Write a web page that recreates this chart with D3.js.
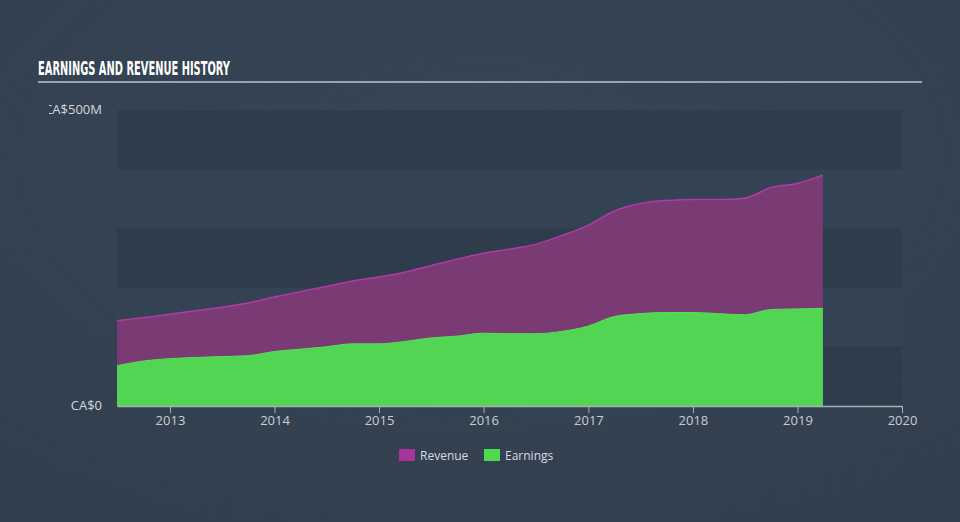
<!DOCTYPE html>
<html><head><meta charset="utf-8">
<script src="https://cdn.jsdelivr.net/npm/d3@7"></script>
<style>
html,body{margin:0;padding:0;background:#344252;}
svg{display:block;}
</style></head>
<body>
<script>
const title = "EARNINGS AND REVENUE HISTORY";
const dates = ["2012-06-30","2012-09-30","2012-12-31","2013-03-31","2013-06-30","2013-09-30","2013-12-31",
  "2014-03-31","2014-06-30","2014-09-30","2014-12-31","2015-03-31","2015-06-30","2015-09-30","2015-12-31",
  "2016-03-31","2016-06-30","2016-09-30","2016-12-31","2017-03-31","2017-06-30","2017-09-30","2017-12-31",
  "2018-03-31","2018-06-30","2018-09-30","2018-12-31","2019-03-31"];
const revenue = [144,149,155,161,167,174,184,193,202,211,218,226,237,248,258,265,273,288,305,329,342,347,349,349,351,369,376,390];
const earnings = [68,76,80,82,83.5,85,92,96,100,105,105,109,115,118,123,122,122,126,135,151,156,158,158,156,154,163,164,165];
const yTickValues = [0,500];
const yTickLabels = ["CA$0","CA$500M"];
const xTickYears = [2013,2014,2015,2016,2017,2018,2019,2020];
const legendItems = ["Revenue","Earnings"];

const W = 960, H = 522;
const svg = d3.select("body").append("svg").attr("width", W).attr("height", H);
const defs = svg.append("defs");
const bg = defs.append("radialGradient").attr("id","bg").attr("cx","50%").attr("cy","30%").attr("r","75%");
bg.append("stop").attr("offset","0%").attr("stop-color","#364657");
bg.append("stop").attr("offset","100%").attr("stop-color","#323f4e");
svg.append("rect").attr("width",W).attr("height",H).attr("fill","url(#bg)");

// title
svg.append("text").attr("x",38).attr("y",75).text(title)
  .attr("font-family","'Liberation Sans Narrow','DejaVu Sans Condensed',sans-serif")
  .attr("font-weight","bold").attr("font-size",20).attr("fill","#ffffff")
  .attr("textLength",192).attr("lengthAdjust","spacingAndGlyphs");
svg.append("rect").attr("x",38).attr("y",81).attr("width",884).attr("height",2).attr("fill","#9aa3ad");

const parse = d3.timeParse("%Y-%m-%d");
const data = dates.map((d,i)=>({date:parse(d), rev:revenue[i], earn:earnings[i]}));

const x = d3.scaleTime().domain([parse("2012-06-30"), parse("2020-01-01")]).range([117, 902]);
const y = d3.scaleLinear().domain([0, 500]).range([406, 110]);

// plot bands
const bands = [0,100,200,300,400];
svg.append("g").selectAll("rect").data(bands).join("rect")
  .attr("x",117).attr("width",902-117)
  .attr("y",d=>y(d+100)).attr("height",d=>y(d)-y(d+100))
  .attr("fill",(d,i)=> i%2===0 ? "#2f3c4b" : "#344353");

const curve = d3.curveMonotoneX;
const revArea = d3.area().x(d=>x(d.date)).y0(y(0)).y1(d=>y(d.rev)).curve(curve);
const earnArea = d3.area().x(d=>x(d.date)).y0(y(0)).y1(d=>y(d.earn)).curve(curve);
svg.append("path").datum(data).attr("d",revArea).attr("fill","#7a3a73");
svg.append("path").datum(data).attr("d",d3.line().x(d=>x(d.date)).y(d=>y(d.rev)).curve(curve))
  .attr("fill","none").attr("stroke","#b13aa6").attr("stroke-width",1.5);
svg.append("path").datum(data).attr("d",earnArea).attr("fill","#51d552");
svg.append("path").datum(data).attr("d",d3.line().x(d=>x(d.date)).y(d=>y(d.earn)).curve(curve))
  .attr("fill","none").attr("stroke","#58e058").attr("stroke-width",1);

// x axis
const xAxis = d3.axisBottom(x).tickValues(xTickYears.map(yr=>new Date(yr,0,1)))
  .tickFormat(d3.timeFormat("%Y")).tickSize(7).tickSizeOuter(0);
const gx = svg.append("g").attr("transform",`translate(0,${y(0)})`).call(xAxis);
gx.select(".domain").attr("stroke","#aab1b9").attr("stroke-width",1.5);
gx.selectAll(".tick line").attr("stroke","#aab1b9");
gx.selectAll("text").attr("fill","#c9ced4").attr("font-family","'Open Sans',sans-serif")
  .attr("font-size",13).attr("dy","0.95em").attr("y",7);

// y labels (clipped on left)
defs.append("clipPath").attr("id","yclip").append("rect").attr("x",49).attr("y",0).attr("width",100).attr("height",H);
const gy = svg.append("g").attr("clip-path","url(#yclip)");
gy.selectAll("text").data(yTickValues).join("text")
  .attr("x",102).attr("y",d=>y(d)).attr("dy","0.3em").attr("text-anchor","end")
  .attr("font-family","'Open Sans',sans-serif").attr("font-size",13).attr("fill","#d4d8dc")
  .text((d,i)=>yTickLabels[i]);

// legend
const legColors = ["#a6349c","#4fd950"];
const legX = [399, 484];
const lg = svg.append("g");
legendItems.forEach((name,i)=>{
  lg.append("rect").attr("x",legX[i]).attr("y",449).attr("width",16).attr("height",12).attr("fill",legColors[i]);
  lg.append("text").attr("x",legX[i]+21).attr("y",460).text(name)
    .attr("font-family","'Open Sans',sans-serif").attr("font-size",12).attr("fill","#d8dce0");
});
</script>
</body></html>
